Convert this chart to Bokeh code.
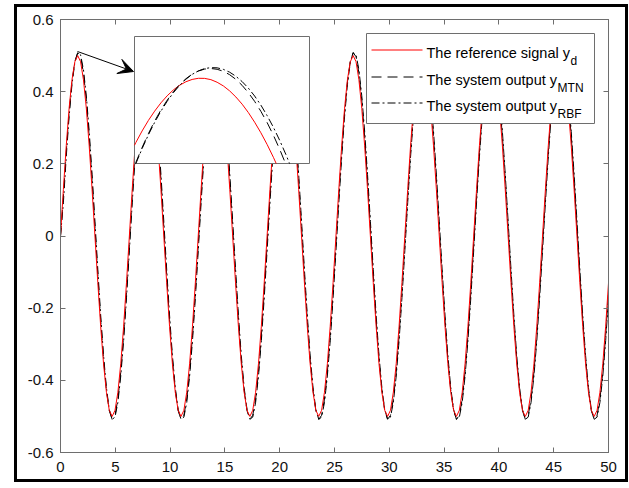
import numpy as np
from bokeh.plotting import figure
from bokeh.models import (Range1d, FixedTicker, LinearAxis, CustomJSTickFormatter,
                          Label, Arrow, VeeHead)
from bokeh.embed import file_html
from bokeh.resources import INLINE

# ---------------- data ----------------
x_ticks = [0, 5, 10, 15, 20, 25, 30, 35, 40, 45, 50]
y_ticks = [-0.6, -0.4, -0.2, 0, 0.2, 0.4, 0.6]

# sample grid: 24 samples per cycle of the reference signal
time = np.arange(192) * (np.pi / 12)

y_ref = [
    0, 0.129, 0.25, 0.354, 0.433, 0.483, 0.5, 0.483, 0.433, 0.354, 0.25, 0.129, 0, -0.129, -0.25, -0.354, -0.433, -0.483, -0.5, -0.483, -0.433, -0.354, -0.25, -0.129,
    0, 0.129, 0.25, 0.354, 0.433, 0.483, 0.5, 0.483, 0.433, 0.354, 0.25, 0.129, 0, -0.129, -0.25, -0.354, -0.433, -0.483, -0.5, -0.483, -0.433, -0.354, -0.25, -0.129,
    0, 0.129, 0.25, 0.354, 0.433, 0.483, 0.5, 0.483, 0.433, 0.354, 0.25, 0.129, 0, -0.129, -0.25, -0.354, -0.433, -0.483, -0.5, -0.483, -0.433, -0.354, -0.25, -0.129,
    0, 0.129, 0.25, 0.354, 0.433, 0.483, 0.5, 0.483, 0.433, 0.354, 0.25, 0.129, 0, -0.129, -0.25, -0.354, -0.433, -0.483, -0.5, -0.483, -0.433, -0.354, -0.25, -0.129,
    0, 0.129, 0.25, 0.354, 0.433, 0.483, 0.5, 0.483, 0.433, 0.354, 0.25, 0.129, 0, -0.129, -0.25, -0.354, -0.433, -0.483, -0.5, -0.483, -0.433, -0.354, -0.25, -0.129,
    0, 0.129, 0.25, 0.354, 0.433, 0.483, 0.5, 0.483, 0.433, 0.354, 0.25, 0.129, 0, -0.129, -0.25, -0.354, -0.433, -0.483, -0.5, -0.483, -0.433, -0.354, -0.25, -0.129,
    0, 0.129, 0.25, 0.354, 0.433, 0.483, 0.5, 0.483, 0.433, 0.354, 0.25, 0.129, 0, -0.129, -0.25, -0.354, -0.433, -0.483, -0.5, -0.483, -0.433, -0.354, -0.25, -0.129,
    0, 0.129, 0.25, 0.354, 0.433, 0.483, 0.5, 0.483, 0.433, 0.354, 0.25, 0.129, 0, -0.129, -0.25, -0.354, -0.433, -0.483, -0.5, -0.483, -0.433, -0.354, -0.25, -0.129,
]

y_mtn = [
    0, 0.107, 0.232, 0.341, 0.427, 0.484, 0.508, 0.497, 0.452, 0.377, 0.276, 0.156, 0.025, -0.107, -0.232, -0.341, -0.427, -0.484, -0.508, -0.497, -0.452, -0.377, -0.276, -0.156,
    -0.025, 0.107, 0.232, 0.341, 0.427, 0.484, 0.508, 0.497, 0.452, 0.377, 0.276, 0.156, 0.025, -0.107, -0.232, -0.341, -0.427, -0.484, -0.508, -0.497, -0.452, -0.377, -0.276, -0.156,
    -0.025, 0.107, 0.232, 0.341, 0.427, 0.484, 0.508, 0.497, 0.452, 0.377, 0.276, 0.156, 0.025, -0.107, -0.232, -0.341, -0.427, -0.484, -0.508, -0.497, -0.452, -0.377, -0.276, -0.156,
    -0.025, 0.107, 0.232, 0.341, 0.427, 0.484, 0.508, 0.497, 0.452, 0.377, 0.276, 0.156, 0.025, -0.107, -0.232, -0.341, -0.427, -0.484, -0.508, -0.497, -0.452, -0.377, -0.276, -0.156,
    -0.025, 0.107, 0.232, 0.341, 0.427, 0.484, 0.508, 0.497, 0.452, 0.377, 0.276, 0.156, 0.025, -0.107, -0.232, -0.341, -0.427, -0.484, -0.508, -0.497, -0.452, -0.377, -0.276, -0.156,
    -0.025, 0.107, 0.232, 0.341, 0.427, 0.484, 0.508, 0.497, 0.452, 0.377, 0.276, 0.156, 0.025, -0.107, -0.232, -0.341, -0.427, -0.484, -0.508, -0.497, -0.452, -0.377, -0.276, -0.156,
    -0.025, 0.107, 0.232, 0.341, 0.427, 0.484, 0.508, 0.497, 0.452, 0.377, 0.276, 0.156, 0.025, -0.107, -0.232, -0.341, -0.427, -0.484, -0.508, -0.497, -0.452, -0.377, -0.276, -0.156,
    -0.025, 0.107, 0.232, 0.341, 0.427, 0.484, 0.508, 0.497, 0.452, 0.377, 0.276, 0.156, 0.025, -0.107, -0.232, -0.341, -0.427, -0.484, -0.508, -0.497, -0.452, -0.377, -0.276, -0.156,
]

y_rbf = [
    0, 0.092, 0.219, 0.331, 0.420, 0.481, 0.508, 0.502, 0.461, 0.388, 0.290, 0.171, 0.041, -0.092, -0.219, -0.331, -0.420, -0.481, -0.508, -0.502, -0.461, -0.388, -0.290, -0.171,
    -0.041, 0.092, 0.219, 0.331, 0.420, 0.481, 0.508, 0.502, 0.461, 0.388, 0.290, 0.171, 0.041, -0.092, -0.219, -0.331, -0.420, -0.481, -0.508, -0.502, -0.461, -0.388, -0.290, -0.171,
    -0.041, 0.092, 0.219, 0.331, 0.420, 0.481, 0.508, 0.502, 0.461, 0.388, 0.290, 0.171, 0.041, -0.092, -0.219, -0.331, -0.420, -0.481, -0.508, -0.502, -0.461, -0.388, -0.290, -0.171,
    -0.041, 0.092, 0.219, 0.331, 0.420, 0.481, 0.508, 0.502, 0.461, 0.388, 0.290, 0.171, 0.041, -0.092, -0.219, -0.331, -0.420, -0.481, -0.508, -0.502, -0.461, -0.388, -0.290, -0.171,
    -0.041, 0.092, 0.219, 0.331, 0.420, 0.481, 0.508, 0.502, 0.461, 0.388, 0.290, 0.171, 0.041, -0.092, -0.219, -0.331, -0.420, -0.481, -0.508, -0.502, -0.461, -0.388, -0.290, -0.171,
    -0.041, 0.092, 0.219, 0.331, 0.420, 0.481, 0.508, 0.502, 0.461, 0.388, 0.290, 0.171, 0.041, -0.092, -0.219, -0.331, -0.420, -0.481, -0.508, -0.502, -0.461, -0.388, -0.290, -0.171,
    -0.041, 0.092, 0.219, 0.331, 0.420, 0.481, 0.508, 0.502, 0.461, 0.388, 0.290, 0.171, 0.041, -0.092, -0.219, -0.331, -0.420, -0.481, -0.508, -0.502, -0.461, -0.388, -0.290, -0.171,
    -0.041, 0.092, 0.219, 0.331, 0.420, 0.481, 0.508, 0.502, 0.461, 0.388, 0.290, 0.171, 0.041, -0.092, -0.219, -0.331, -0.420, -0.481, -0.508, -0.502, -0.461, -0.388, -0.290, -0.171,
]

# zoomed view of the first peak (inset)
t_zoom = [1.00, 1.05, 1.10, 1.15, 1.20, 1.25, 1.30, 1.35, 1.40, 1.45,
          1.50, 1.55, 1.60, 1.65, 1.70, 1.75, 1.80, 1.85, 1.90, 1.95,
          2.00, 2.05, 2.10, 2.15, 2.20, 2.25, 2.30, 2.35, 2.40, 2.45]
y_ref_zoom = [0.4207, 0.4337, 0.4456, 0.4564, 0.4660, 0.4745, 0.4818, 0.4879, 0.4927, 0.4963,
              0.4987, 0.4999, 0.4998, 0.4985, 0.4958, 0.4920, 0.4869, 0.4806, 0.4732, 0.4645,
              0.4546, 0.4437, 0.4316, 0.4184, 0.4042, 0.3891, 0.3729, 0.3558, 0.3378, 0.3189]
y_mtn_zoom = [0.3961, 0.4131, 0.4286, 0.4428, 0.4557, 0.4671, 0.4772, 0.4860, 0.4934, 0.4994,
              0.5041, 0.5074, 0.5094, 0.5100, 0.5092, 0.5071, 0.5036, 0.4988, 0.4926, 0.4850,
              0.4761, 0.4658, 0.4542, 0.4412, 0.4268, 0.4111, 0.3940, 0.3756, 0.3558, 0.3346]
y_rbf_zoom = [0.3951, 0.4119, 0.4274, 0.4415, 0.4544, 0.4659, 0.4761, 0.4850, 0.4926, 0.4989,
              0.5039, 0.5075, 0.5099, 0.5109, 0.5107, 0.5091, 0.5062, 0.5020, 0.4965, 0.4897,
              0.4816, 0.4722, 0.4614, 0.4494, 0.4360, 0.4213, 0.4054, 0.3881, 0.3695, 0.3496]

legend_labels = ["The reference signal y", "The system output y", "The system output y"]
legend_subs = ["d", "MTN", "RBF"]

# ---------------- layout constants (page pixels) ----------------
PAGE_W, PAGE_H = 629, 488
OX, OY = 17, 7                 # figure origin inside the black outer frame
FIG_W, FIG_H = 608, 472
FL, FR, FT, FB = 60, 608, 19, 452          # plot frame in page pixels
XMIN, XMAX, YMIN, YMAX = 0, 50, -0.6, 0.6
AX_GRAY = "#6e6e6e"
FONT = "Liberation Sans"
DASH = "10 6"
DASHDOT = "8 3 2 3"


def dx(px):
    return XMIN + (px - FL) / (FR - FL) * (XMAX - XMIN)


def dy(py):
    return YMAX - (py - FT) / (FB - FT) * (YMAX - YMIN)


p = figure(width=FIG_W, height=FIG_H, x_range=Range1d(XMIN, XMAX), y_range=Range1d(YMIN, YMAX),
           output_backend="svg", toolbar_location=None,
           min_border_left=FL - OX, min_border_right=OX + FIG_W - FR,
           min_border_top=FT - OY, min_border_bottom=OY + FIG_H - FB,
           margin=(OY, 0, 0, OX),
           styles={"outline": "3px solid black"})
p.grid.visible = False
p.outline_line_color = AX_GRAY
p.outline_line_width = 1
p.background_fill_color = "white"
p.border_fill_color = "white"

for ax, ticks in ((p.xaxis[0], x_ticks), (p.yaxis[0], y_ticks)):
    ax.ticker = FixedTicker(ticks=ticks)
    ax.major_tick_in = 5
    ax.major_tick_out = 0
    ax.minor_tick_line_color = None
    ax.axis_line_color = AX_GRAY
    ax.major_tick_line_color = AX_GRAY
    ax.major_label_text_font = FONT
    ax.major_label_text_font_size = "15px"
    ax.major_label_text_color = "#111111"
p.xaxis[0].major_label_standoff = 9
p.yaxis[0].major_label_standoff = 7
p.yaxis[0].formatter = CustomJSTickFormatter(
    code="return Math.abs(tick) < 1e-9 ? '0' : tick.toFixed(1);")

for ticks, side in ((x_ticks, "above"), (y_ticks, "right")):
    ax = LinearAxis(ticker=FixedTicker(ticks=ticks),
                    formatter=CustomJSTickFormatter(code="return '';"),
                    major_tick_in=5, major_tick_out=0, major_label_standoff=0,
                    minor_tick_line_color=None, axis_line_color=AX_GRAY,
                    major_tick_line_color=AX_GRAY, major_label_text_font_size="1px")
    p.add_layout(ax, side)

# main curves
p.line(time, y_mtn, line_color="black", line_width=1, line_dash=DASH)
p.line(time, y_rbf, line_color="black", line_width=1, line_dash=DASHDOT)
p.line(time, y_ref, line_color="#ff0000", line_width=1)

# ---------------- inset ----------------
IB = (dx(134), dx(309), dy(163), dy(36))   # inset box in main data units (l, r, b, t)
ZX0, ZX1, ZY0, ZY1 = 1.039, 2.439, 0.412, 0.543   # inset window in data units

p.quad(left=[IB[0]], right=[IB[1]], bottom=[IB[2]], top=[IB[3]],
       fill_color="white", line_color=AX_GRAY, line_width=1)

fx0 = (IB[0] - XMIN) / (XMAX - XMIN)
fx1 = (IB[1] - XMIN) / (XMAX - XMIN)
fy0 = (IB[2] - YMIN) / (YMAX - YMIN)
fy1 = (IB[3] - YMIN) / (YMAX - YMIN)
sx = (ZX1 - ZX0) / (fx1 - fx0)
sy = (ZY1 - ZY0) / (fy1 - fy0)
p.extra_x_ranges = {"zx": Range1d(ZX0 - fx0 * sx, ZX0 - fx0 * sx + sx)}
p.extra_y_ranges = {"zy": Range1d(ZY0 - fy0 * sy, ZY0 - fy0 * sy + sy)}


def clip_polyline(xs, ys, x0, x1, y0, y1):
    parts, cx, cy = [], [], []
    for i in range(len(xs) - 1):
        ax_, ay_, bx_, by_ = xs[i], ys[i], xs[i + 1], ys[i + 1]
        ddx, ddy = bx_ - ax_, by_ - ay_
        t0, t1, ok = 0.0, 1.0, True
        for pp, qq in ((-ddx, ax_ - x0), (ddx, x1 - ax_), (-ddy, ay_ - y0), (ddy, y1 - ay_)):
            if pp == 0:
                if qq < 0:
                    ok = False
                    break
            else:
                r = qq / pp
                if pp < 0:
                    if r > t1:
                        ok = False
                        break
                    t0 = max(t0, r)
                else:
                    if r < t0:
                        ok = False
                        break
                    t1 = min(t1, r)
        if not ok:
            if cx:
                parts.append((cx, cy))
                cx, cy = [], []
            continue
        if not cx:
            cx, cy = [ax_ + t0 * ddx], [ay_ + t0 * ddy]
        cx.append(ax_ + t1 * ddx)
        cy.append(ay_ + t1 * ddy)
        if t1 < 1.0:
            parts.append((cx, cy))
            cx, cy = [], []
    if cx:
        parts.append((cx, cy))
    return parts


for ys, style in ((y_ref_zoom, dict(line_color="#ff0000")),
                  (y_mtn_zoom, dict(line_color="black", line_dash=DASH)),
                  (y_rbf_zoom, dict(line_color="black", line_dash=DASHDOT))):
    for px_, py_ in clip_polyline(t_zoom, ys, ZX0, ZX1, ZY0, ZY1):
        p.line(px_, py_, line_width=1, x_range_name="zx", y_range_name="zy", **style)

# arrow from the first peak to the inset
p.add_layout(Arrow(end=VeeHead(size=15, fill_color="black", line_color="black", line_width=1),
                   x_start=dx(77), y_start=dy(51), x_end=dx(133), y_end=dy(71),
                   line_color="black", line_width=1))

# ---------------- legend ----------------
p.quad(left=[dx(366)], right=[dx(594)], bottom=[dy(123)], top=[dy(33)],
       fill_color="white", line_color=AX_GRAY, line_width=1)

ARIAL = {"T": 611, "h": 556, "e": 556, " ": 278, "r": 333, "f": 278, "n": 556, "c": 500,
         "s": 500, "i": 222, "g": 556, "a": 556, "l": 222, "y": 500, "t": 278, "m": 833,
         "o": 556, "u": 556, "p": 556}


def text_w(s, size):
    return sum(ARIAL.get(ch, 556) for ch in s) / 1000 * size


LEG_FS = 14.5
SUB_FS = 12
rows = [49.5, 76.5, 102.5]
styles = [dict(line_color="#ff0000"), dict(line_color="black", line_dash=DASH),
          dict(line_color="black", line_dash=DASHDOT)]
for row, lab, sub, st in zip(rows, legend_labels, legend_subs, styles):
    p.line([dx(371), dx(422)], [dy(row), dy(row)], line_width=1, **st)
    base = row + 2.5
    p.add_layout(Label(x=dx(426), y=dy(base), text=lab, text_font=FONT,
                       text_font_size=f"{LEG_FS}px", text_color="black",
                       text_baseline="alphabetic", text_align="left"))
    p.add_layout(Label(x=dx(426 + text_w(lab, LEG_FS) + 0.5), y=dy(base + 8), text=sub,
                       text_font=FONT, text_font_size=f"{SUB_FS}px", text_color="black",
                       text_baseline="alphabetic", text_align="left"))

open("out.html", "w").write(file_html(p, INLINE))
